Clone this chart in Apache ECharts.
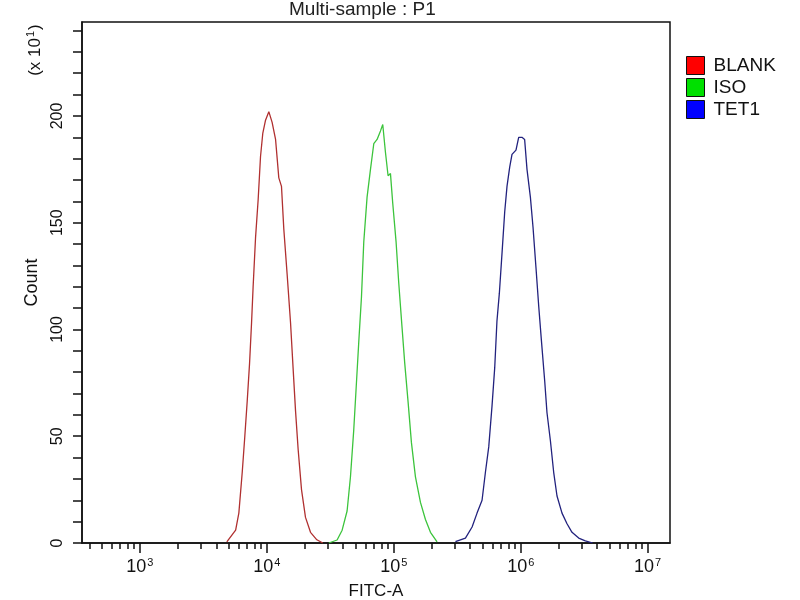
<!DOCTYPE html>
<html>
<head>
<meta charset="utf-8">
<script src="https://cdn.jsdelivr.net/npm/echarts@6/dist/echarts.min.js"></script>
<style>html,body{margin:0;padding:0;background:#fff}#c{width:800px;height:600px}</style>
</head>
<body>
<div id="c"></div>
<script>
// ---- data (FITC-A intensity, Count in units of 10) ----
const blankX = [4840, 5680, 6020, 6400, 6710, 7000, 7310, 7580, 7800, 8150, 8550, 8920, 9300, 9770, 10370, 11010, 11720, 12430, 13050, 13610, 14450, 15380, 16030, 16830, 17640, 18760, 20170, 22090, 24790, 27600];
const blankY = [0.5, 6, 14, 33, 50, 66, 84, 103, 120, 143, 161, 181, 192, 198, 202, 197, 189, 171, 167, 147, 126, 103, 84, 62, 44, 25, 12, 5, 1.5, 0];

const isoX = [30780, 35780, 39200, 42890, 45600, 48400, 50480, 52990, 55640, 58040, 61630, 65550, 69600, 73900, 78600, 81900, 86000, 90200, 94200, 98200, 104300, 109400, 116200, 122100, 129700, 137800, 148200, 162300, 177700, 194600, 219400];
const isoY = [0, 1.4, 6, 15, 31, 53, 72, 94, 115, 141, 162, 175, 187, 189, 193, 196, 183, 172, 173, 159, 141, 122, 101, 84, 66, 47, 31, 19, 11, 5, 0.5];

const tet1X = [306000, 367000, 414000, 453000, 496000, 527000, 560000, 594000, 624000, 650000, 679000, 713000, 748000, 780000, 819000, 854000, 918000, 964000, 1023000, 1074000, 1121000, 1192000, 1250000, 1319000, 1386000, 1455000, 1545000, 1611000, 1713000, 1820000, 1932000, 2115000, 2317000, 2536000, 2863000, 3230000, 3690000];
const tet1Y = [0.6, 2.3, 7.5, 14, 20, 33, 45, 64, 82, 104, 117, 136, 155, 167, 176, 182, 184, 190, 190, 189, 175, 162, 148, 129, 111, 95, 76, 61, 48, 33, 22, 14, 9, 5, 2.3, 1, 0];

const seriesNames = ['BLANK', 'ISO', 'TET1'];
const xMajorTicks = [1e3, 1e4, 1e5, 1e6, 1e7];
const xMinorTicks = [400, 500, 600, 700, 800, 900,
  2000, 3000, 4000, 5000, 6000, 7000, 8000, 9000,
  20000, 30000, 40000, 50000, 60000, 70000, 80000, 90000,
  200000, 300000, 400000, 500000, 600000, 700000, 800000, 900000,
  2e6, 3e6, 4e6, 5e6, 6e6, 7e6, 8e6, 9e6];
const yTicks = [0, 10, 20, 30, 40, 50, 60, 70, 80, 90, 100, 110, 120, 130, 140, 150, 160, 170, 180, 190, 200, 210, 220, 230, 240];
const yLabels = [0, 50, 100, 150, 200];

const lineColors = ['#b03030', '#3cc43c', '#22227e'];
const legendColors = ['#ff0000', '#00e000', '#0000ff'];

const FONT = 'Liberation Sans, Arial, sans-serif';
const zip = (xs, ys) => xs.map((x, i) => [x, ys[i]]);
const allData = [zip(blankX, blankY), zip(isoX, isoY), zip(tet1X, tet1Y)];

const chart = echarts.init(document.getElementById('c'));
const xCommon = {
  type: 'log', logBase: 10, min: 350, max: 1.5e7, gridIndex: 0, position: 'bottom',
  splitLine: { show: false }
};
chart.setOption({
  animation: false,
  backgroundColor: '#fff',
  title: {
    text: 'Multi-sample : P1', left: 284, top: -5,
    textStyle: { fontFamily: FONT, fontSize: 19, fontWeight: 'normal', color: '#222' }
  },
  grid: {
    left: 82, right: 130, top: 22, bottom: 57,
    outerBoundsMode: 'none', containLabel: false,
    show: true, borderColor: '#111', borderWidth: 1.5, backgroundColor: 'transparent'
  },
  legend: {
    orient: 'vertical', left: 686, top: 56, padding: 0, itemWidth: 18, itemHeight: 18, itemGap: 3,
    icon: 'rect',
    textStyle: { fontFamily: FONT, fontSize: 19, color: '#111', padding: [0, 0, 0, 4] },
    data: seriesNames.map((n, i) => ({
      name: n, icon: 'rect',
      itemStyle: { color: legendColors[i], borderColor: '#111', borderWidth: 1 }
    })),
    selectedMode: false
  },
  xAxis: [
    Object.assign({}, xCommon, {
      name: 'FITC-A', nameLocation: 'middle', nameGap: 40,
      nameTextStyle: { fontFamily: FONT, fontSize: 17, color: '#111' },
      axisLine: { show: true, lineStyle: { color: '#111', width: 1.5 } },
      axisTick: { show: true, length: 10, customValues: xMajorTicks, lineStyle: { color: '#111', width: 1.5 } },
      axisLabel: {
        customValues: xMajorTicks, margin: 14,
        fontFamily: FONT, fontSize: 18, color: '#111',
        formatter: v => '10{sup|' + Math.round(Math.log10(v)) + '}',
        rich: { sup: { fontFamily: FONT, fontSize: 11, color: '#111', verticalAlign: 'top', padding: [0, 0, 9, 1] } }
      }
    }),
    Object.assign({}, xCommon, {
      axisLine: { show: false },
      axisTick: { show: true, length: 6, customValues: xMinorTicks, lineStyle: { color: '#111', width: 1.5 } },
      axisLabel: { show: false }
    })
  ],
  yAxis: {
    type: 'value', min: 0, max: 244,
    name: 'Count', nameLocation: 'middle', nameGap: 41,
    nameTextStyle: { fontFamily: FONT, fontSize: 18, color: '#111' },
    axisLine: { show: true, lineStyle: { color: '#111', width: 1.5 } },
    axisTick: { show: true, length: 9, customValues: yTicks, lineStyle: { color: '#111', width: 1.5 } },
    axisLabel: { customValues: yLabels, rotate: 90, margin: 16, fontFamily: FONT, fontSize: 16, color: '#111' },
    splitLine: { show: false }
  },
  graphic: [{
    type: 'text', x: 35, y: 50, rotation: Math.PI / 2,
    style: {
      text: '(x 10{sup|1})', fontFamily: FONT, fontSize: 17, fill: '#111',
      align: 'center', verticalAlign: 'middle',
      rich: { sup: { fontFamily: FONT, fontSize: 11, fill: '#111', verticalAlign: 'top', padding: [0, 1, 8, 1] } }
    }
  }],
  series: allData.map((d, i) => ({
    name: seriesNames[i], type: 'line', data: d, xAxisIndex: 0, yAxisIndex: 0,
    showSymbol: false, symbol: 'none', smooth: false,
    lineStyle: { color: lineColors[i], width: 1.3 },
    itemStyle: { color: lineColors[i] }
  }))
});
</script>
</body>
</html>
